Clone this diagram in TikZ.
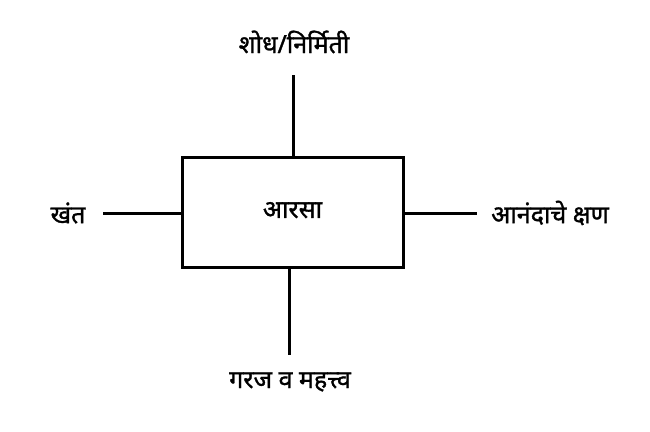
\documentclass[tikz,border=0pt]{standalone}
\usepackage{fontspec}
\newfontfamily\devfont[Script=Devanagari, FakeBold=1.2]{Noto Sans}
\usetikzlibrary{positioning}
\tikzset{
  mirror/.style={draw=black, line width=3pt, minimum width=221pt, minimum height=110pt,
                 inner sep=0pt, font=\devfont\fontsize{25}{28}\selectfont},
  tag/.style={font=\devfont\fontsize{25}{28}\selectfont, inner sep=2pt},
  link/.style={line width=3pt, draw=black},
}
\begin{document}
\begin{tikzpicture}[x=1pt, y=-1pt]
\useasboundingbox (0,0) rectangle (650,431);
\node[mirror] (aarsa) at (292.5,212) {\raisebox{4pt}{आरसा}};
\node[tag] (shodh) at (294,42) {शोध/निर्मिती};
\node[tag] (khant) at (68,213) {खंत};
\node[tag] (anand) at (550,213) {आनंदाचे क्षण};
\node[tag] (garaj) at (290,382) {गरज व महत्त्व};

\coordinate (topend) at (293,75);
\coordinate (botend) at (289,355);
\coordinate (leftend) at (103,213);
\coordinate (rightend) at (477,213);

\draw[link] (aarsa.north -| topend) -- (topend);
\draw[link] (aarsa.south -| botend) -- (botend);
\draw[link] (aarsa.west |- leftend) -- (leftend);
\draw[link] (aarsa.east |- rightend) -- (rightend);
\end{tikzpicture}
\end{document}
